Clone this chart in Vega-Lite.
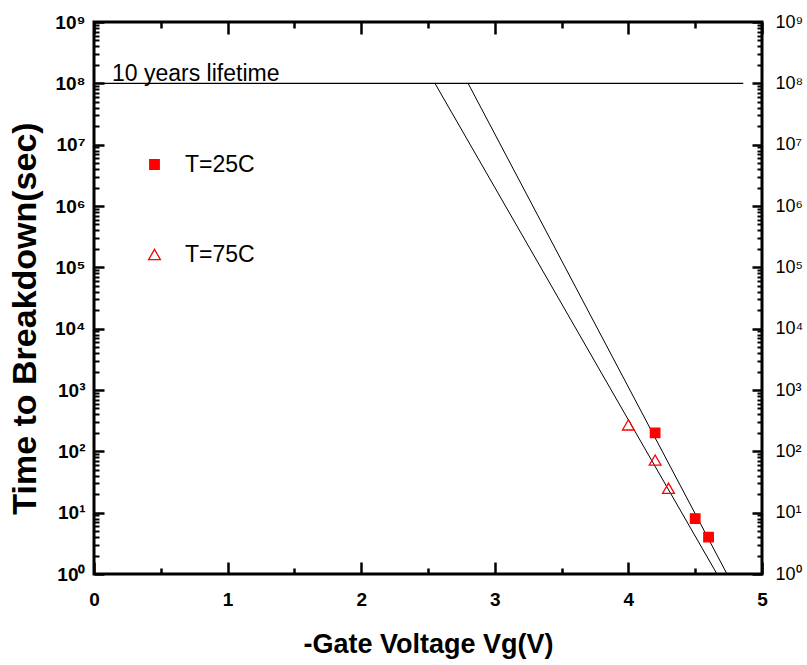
{
  "$schema": "https://vega.github.io/schema/vega-lite/v6.json",
  "width": 668,
  "height": 552,
  "autosize": {"type": "none"},
  "padding": {"left": 94, "top": 22, "right": 45, "bottom": 91},
  "background": "white",
  "config": {
    "view": {"stroke": "#000000", "strokeWidth": 3, "strokeOpacity": 1},
    "font": "Liberation Sans",
    "axis": {"grid": false, "domain": false, "tickColor": "#000000", "tickOpacity": 1, "tickWidth": 2.5, "labelColor": "black", "titleColor": "black", "labelFont": "Liberation Sans", "titleFont": "Liberation Sans"}
  },
  "datasets": {
    "measured": [
      {"series": "T=25C", "vg": 4.2, "tbd": 200},
      {"series": "T=25C", "vg": 4.5, "tbd": 8},
      {"series": "T=25C", "vg": 4.6, "tbd": 4},
      {"series": "T=75C", "vg": 4.0, "tbd": 270},
      {"series": "T=75C", "vg": 4.2, "tbd": 72},
      {"series": "T=75C", "vg": 4.3, "tbd": 25}
    ],
    "fits": [
      {"fit": "T=25C", "vg": 2.80, "tbd": 100000000},
      {"fit": "T=25C", "vg": 4.738, "tbd": 1},
      {"fit": "T=75C", "vg": 2.552, "tbd": 100000000},
      {"fit": "T=75C", "vg": 4.663, "tbd": 1}
    ],
    "lifetime": [
      {"vg": 0, "vg2": 4.86, "tbd": 100000000, "label": "10 years lifetime"}
    ]
  },
  "layer": [
    {
      "data": {"name": "lifetime"},
      "mark": {"type": "rule", "color": "black", "strokeWidth": 1.2},
      "encoding": {
        "x": {
          "field": "vg", "type": "quantitative",
          "scale": {"domain": [0, 5], "nice": false, "zero": false},
          "axis": {
            "orient": "bottom", "offset": -12, "tickSize": 12, "tickColor": "#000000", "tickWidth": 2.5,
            "title": "-Gate Voltage Vg(V)",
            "titleFontSize": 27, "titleFontWeight": "bold",
            "titleX": 334, "titleY": 90, "titleBaseline": "alphabetic", "titleAlign": "center", "titleAnchor": null,
            "values": [0, 1, 2, 3, 4, 5],
            "format": "d",
            "labelFontSize": 19, "labelFontWeight": "bold",
            "labelPadding": 16, "labelBaseline": "top", "labelFlush": false
          }
        },
        "x2": {"field": "vg2"},
        "y": {
          "field": "tbd", "type": "quantitative",
          "scale": {"type": "log", "domain": [1, 1000000000], "nice": false},
          "axis": {
            "orient": "left", "offset": -10, "tickSize": 10, "tickColor": "#000000", "tickWidth": 2.5,
            "title": "Time to Breakdown(sec)",
            "titleFontSize": 34, "titleFontWeight": "bold",
            "titleX": -69, "titleY": 296, "titleBaseline": "alphabetic", "titleAlign": "center", "titleAngle": -90, "titleAnchor": null,
            "values": [1, 10, 100, 1000, 10000, 100000, 1000000, 10000000, 100000000, 1000000000],
            "labelExpr": "'10' + ['⁰','¹','²','³','⁴','⁵','⁶','⁷','⁸','⁹'][round(log(datum.value)/LN10)]",
            "labelFontSize": 19, "labelFontWeight": "bold",
            "labelPadding": 9, "labelBaseline": "middle", "labelFlush": false
          }
        }
      }
    },
    {
      "data": {"name": "fits"},
      "mark": {"type": "line", "color": "black", "strokeWidth": 1},
      "encoding": {
        "x": {
          "field": "vg", "type": "quantitative",
          "scale": {"domain": [0, 5], "nice": false, "zero": false},
          "axis": {
            "orient": "top", "offset": -12, "tickSize": 12, "tickColor": "#000000", "tickWidth": 2.5, "title": null, "labels": false,
            "values": [0, 1, 2, 3, 4, 5]
          }
        },
        "y": {
          "field": "tbd", "type": "quantitative",
          "scale": {"type": "log", "domain": [1, 1000000000], "nice": false},
          "axis": {
            "orient": "right", "offset": -10, "tickSize": 10, "tickColor": "#000000", "tickWidth": 2.5, "title": null,
            "values": [1, 10, 100, 1000, 10000, 100000, 1000000, 10000000, 100000000, 1000000000],
            "labelExpr": "'10' + ['⁰','¹','²','³','⁴','⁵','⁶','⁷','⁸','⁹'][round(log(datum.value)/LN10)]",
            "labelFontSize": 18, "labelFontWeight": "normal",
            "labelPadding": 13, "labelBaseline": "middle", "labelFlush": false
          }
        },
        "detail": {"field": "fit", "type": "nominal"}
      }
    },
    {
      "data": {"name": "lifetime"},
      "mark": {"type": "text", "align": "left", "baseline": "alphabetic", "dx": 18, "dy": -2, "fontSize": 23, "color": "black", "font": "Liberation Sans"},
      "encoding": {
        "x": {
          "field": "vg", "type": "quantitative", "scale": {"domain": [0, 5], "nice": false, "zero": false},
          "axis": {"orient": "bottom", "offset": -6, "tickSize": 6, "tickColor": "#000000", "tickWidth": 2.5, "title": null, "labels": false, "values": [0.5, 1.5, 2.5, 3.5, 4.5]}
        },
        "y": {
          "field": "tbd", "type": "quantitative", "scale": {"type": "log", "domain": [1, 1000000000], "nice": false},
          "axis": {"orient": "left", "offset": -5, "tickSize": 5, "tickColor": "#000000", "tickWidth": 2, "title": null, "labels": false,
            "values": [2,3,4,5,6,7,8,9,20,30,40,50,60,70,80,90,200,300,400,500,600,700,800,900,2000,3000,4000,5000,6000,7000,8000,9000,20000,30000,40000,50000,60000,70000,80000,90000,200000,300000,400000,500000,600000,700000,800000,900000,2000000,3000000,4000000,5000000,6000000,7000000,8000000,9000000,20000000,30000000,40000000,50000000,60000000,70000000,80000000,90000000,200000000,300000000,400000000,500000000,600000000,700000000,800000000,900000000]}
        },
        "text": {"field": "label"}
      }
    },
    {
      "data": {"name": "measured"},
      "mark": {"type": "point", "strokeWidth": 1.3, "opacity": 1},
      "encoding": {
        "x": {
          "field": "vg", "type": "quantitative", "scale": {"domain": [0, 5], "nice": false, "zero": false},
          "axis": {"orient": "top", "offset": -6, "tickSize": 6, "tickColor": "#000000", "tickWidth": 2.5, "title": null, "labels": false, "values": [0.5, 1.5, 2.5, 3.5, 4.5]}
        },
        "y": {
          "field": "tbd", "type": "quantitative", "scale": {"type": "log", "domain": [1, 1000000000], "nice": false},
          "axis": {"orient": "right", "offset": -5, "tickSize": 5, "tickColor": "#000000", "tickWidth": 2, "title": null, "labels": false,
            "values": [2,3,4,5,6,7,8,9,20,30,40,50,60,70,80,90,200,300,400,500,600,700,800,900,2000,3000,4000,5000,6000,7000,8000,9000,20000,30000,40000,50000,60000,70000,80000,90000,200000,300000,400000,500000,600000,700000,800000,900000,2000000,3000000,4000000,5000000,6000000,7000000,8000000,9000000,20000000,30000000,40000000,50000000,60000000,70000000,80000000,90000000,200000000,300000000,400000000,500000000,600000000,700000000,800000000,900000000]}
        },
        "shape": {
          "field": "series", "type": "nominal",
          "scale": {"domain": ["T=25C", "T=75C"], "range": ["square", "triangle-up"]},
          "legend": {"orient": "none", "legendX": 49, "legendY": 131, "title": null, "direction": "vertical", "labelFontSize": 23, "labelFont": "Liberation Sans", "labelColor": "black", "rowPadding": 66, "labelOffset": 19, "padding": 0, "symbolStrokeWidth": 1.3}
        },
        "fill": {
          "field": "series", "type": "nominal",
          "scale": {"domain": ["T=25C", "T=75C"], "range": ["#ff0000", "transparent"]},
          "legend": {"orient": "none", "legendX": 49, "legendY": 131, "title": null, "direction": "vertical", "labelFontSize": 23, "labelFont": "Liberation Sans", "labelColor": "black", "rowPadding": 66, "labelOffset": 19, "padding": 0, "symbolStrokeWidth": 1.3}
        },
        "stroke": {
          "field": "series", "type": "nominal",
          "scale": {"domain": ["T=25C", "T=75C"], "range": ["#ff0000", "#ff0000"]},
          "legend": {"orient": "none", "legendX": 49, "legendY": 131, "title": null, "direction": "vertical", "labelFontSize": 23, "labelFont": "Liberation Sans", "labelColor": "black", "rowPadding": 66, "labelOffset": 19, "padding": 0, "symbolStrokeWidth": 1.3}
        },
        "size": {
          "field": "series", "type": "nominal",
          "scale": {"domain": ["T=25C", "T=75C"], "range": [90, 140]},
          "legend": {"orient": "none", "legendX": 49, "legendY": 131, "title": null, "direction": "vertical", "labelFontSize": 23, "labelFont": "Liberation Sans", "labelColor": "black", "rowPadding": 66, "labelOffset": 19, "padding": 0, "symbolStrokeWidth": 1.3}
        }
      }
    }
  ],
  "resolve": {"axis": {"x": "independent", "y": "independent"}}
}
